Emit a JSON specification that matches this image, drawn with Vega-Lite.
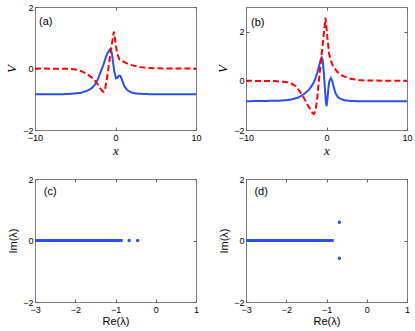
{
  "$schema": "https://vega.github.io/schema/vega-lite/v6.json",
  "background": "white",
  "padding": {"left": 5, "top": 2, "right": 8, "bottom": 0},
  "config": {
    "view": {"stroke": "#808080", "strokeWidth": 1},
    "axis": {
      "grid": false, "domain": false, "tickColor": "#606060", "tickSize": -3, "tickWidth": 1,
      "labelFont": "Liberation Sans", "labelFontSize": 9, "labelColor": "#000", "labelFlush": false,
      "titleFont": "Liberation Sans", "titleFontWeight": "normal", "titleFontSize": 11, "titleColor": "#000"
    },
    "axisX": {"labelPadding": 6},
    "axisY": {"labelPadding": 5},
    "text": {"font": "Liberation Sans", "fontSize": 11, "align": "left", "baseline": "middle"}
  },
  "datasets": {
    "a": [
      {"x": -10, "V": -0.84, "s": "u"}, {"x": -7, "V": -0.84, "s": "u"}, {"x": -6, "V": -0.83, "s": "u"}, {"x": -5, "V": -0.81, "s": "u"},
      {"x": -4.3, "V": -0.79, "s": "u"}, {"x": -3.5, "V": -0.72, "s": "u"}, {"x": -3, "V": -0.65, "s": "u"}, {"x": -2.6, "V": -0.54, "s": "u"},
      {"x": -2.2, "V": -0.36, "s": "u"}, {"x": -1.8, "V": -0.08, "s": "u"}, {"x": -1.5, "V": 0.12, "s": "u"}, {"x": -1.18, "V": 0.38, "s": "u"},
      {"x": -0.9, "V": 0.55, "s": "u"}, {"x": -0.64, "V": 0.63, "s": "u"}, {"x": -0.45, "V": 0.5, "s": "u"}, {"x": -0.3, "V": 0.2, "s": "u"},
      {"x": -0.15, "V": -0.1, "s": "u"}, {"x": 0.06, "V": -0.32, "s": "u"}, {"x": 0.25, "V": -0.3, "s": "u"}, {"x": 0.45, "V": -0.23, "s": "u"},
      {"x": 0.6, "V": -0.24, "s": "u"}, {"x": 0.8, "V": -0.36, "s": "u"}, {"x": 1.1, "V": -0.58, "s": "u"}, {"x": 1.5, "V": -0.71, "s": "u"},
      {"x": 1.9, "V": -0.77, "s": "u"}, {"x": 2.5, "V": -0.81, "s": "u"}, {"x": 3.5, "V": -0.83, "s": "u"}, {"x": 5, "V": -0.84, "s": "u"},
      {"x": 10, "V": -0.84, "s": "u"},
      {"x": -10, "V": 0, "s": "w"}, {"x": -6, "V": -0.01, "s": "w"}, {"x": -5, "V": -0.03, "s": "w"}, {"x": -4.3, "V": -0.08, "s": "w"},
      {"x": -3.67, "V": -0.16, "s": "w"}, {"x": -3.04, "V": -0.27, "s": "w"}, {"x": -2.63, "V": -0.37, "s": "w"}, {"x": -2.2, "V": -0.52, "s": "w"},
      {"x": -1.9, "V": -0.64, "s": "w"}, {"x": -1.65, "V": -0.73, "s": "w"}, {"x": -1.48, "V": -0.76, "s": "w"}, {"x": -1.28, "V": -0.66, "s": "w"},
      {"x": -1.05, "V": -0.3, "s": "w"}, {"x": -0.78, "V": 0.2, "s": "w"}, {"x": -0.5, "V": 0.72, "s": "w"}, {"x": -0.2, "V": 1.2, "s": "w"},
      {"x": 0, "V": 0.85, "s": "w"}, {"x": 0.2, "V": 0.5, "s": "w"}, {"x": 0.47, "V": 0.3, "s": "w"}, {"x": 0.8, "V": 0.25, "s": "w"},
      {"x": 1.1, "V": 0.21, "s": "w"}, {"x": 1.5, "V": 0.16, "s": "w"}, {"x": 2, "V": 0.11, "s": "w"}, {"x": 3, "V": 0.05, "s": "w"},
      {"x": 4, "V": 0.02, "s": "w"}, {"x": 5, "V": 0.005, "s": "w"}, {"x": 10, "V": 0, "s": "w"}
    ],
    "b": [
      {"x": -10, "V": -0.83, "s": "u"}, {"x": -6, "V": -0.81, "s": "u"}, {"x": -5, "V": -0.79, "s": "u"}, {"x": -4.4, "V": -0.76, "s": "u"},
      {"x": -3.5, "V": -0.68, "s": "u"}, {"x": -2.8, "V": -0.54, "s": "u"}, {"x": -2.3, "V": -0.4, "s": "u"}, {"x": -2, "V": -0.29, "s": "u"},
      {"x": -1.6, "V": -0.08, "s": "u"}, {"x": -1.36, "V": 0.11, "s": "u"}, {"x": -1.15, "V": 0.33, "s": "u"}, {"x": -0.95, "V": 0.57, "s": "u"},
      {"x": -0.75, "V": 0.82, "s": "u"}, {"x": -0.6, "V": 0.95, "s": "u"}, {"x": -0.48, "V": 0.85, "s": "u"}, {"x": -0.35, "V": 0.4, "s": "u"},
      {"x": -0.2, "V": -0.3, "s": "u"}, {"x": -0.08, "V": -0.85, "s": "u"}, {"x": 0, "V": -1.03, "s": "u"}, {"x": 0.1, "V": -0.8, "s": "u"},
      {"x": 0.22, "V": -0.35, "s": "u"}, {"x": 0.35, "V": -0.02, "s": "u"}, {"x": 0.53, "V": 0.11, "s": "u"}, {"x": 0.7, "V": 0, "s": "u"},
      {"x": 0.9, "V": -0.25, "s": "u"}, {"x": 1.1, "V": -0.49, "s": "u"}, {"x": 1.4, "V": -0.66, "s": "u"}, {"x": 1.73, "V": -0.73, "s": "u"},
      {"x": 2.2, "V": -0.79, "s": "u"}, {"x": 3, "V": -0.82, "s": "u"}, {"x": 4, "V": -0.83, "s": "u"}, {"x": 10, "V": -0.83, "s": "u"},
      {"x": -10, "V": 0, "s": "w"}, {"x": -6.5, "V": -0.01, "s": "w"}, {"x": -5, "V": -0.05, "s": "w"}, {"x": -4.4, "V": -0.11, "s": "w"},
      {"x": -3.8, "V": -0.22, "s": "w"}, {"x": -3, "V": -0.58, "s": "w"}, {"x": -2.4, "V": -0.95, "s": "w"}, {"x": -2, "V": -1.17, "s": "w"},
      {"x": -1.75, "V": -1.3, "s": "w"}, {"x": -1.56, "V": -1.35, "s": "w"}, {"x": -1.35, "V": -1.2, "s": "w"}, {"x": -1.15, "V": -0.7, "s": "w"},
      {"x": -0.95, "V": -0.02, "s": "w"}, {"x": -0.7, "V": 0.78, "s": "w"}, {"x": -0.4, "V": 1.7, "s": "w"}, {"x": -0.12, "V": 2.57, "s": "w"},
      {"x": 0.1, "V": 1.8, "s": "w"}, {"x": 0.3, "V": 1.15, "s": "w"}, {"x": 0.5, "V": 0.85, "s": "w"}, {"x": 0.8, "V": 0.6, "s": "w"},
      {"x": 1.3, "V": 0.38, "s": "w"}, {"x": 2, "V": 0.2, "s": "w"}, {"x": 3, "V": 0.08, "s": "w"}, {"x": 4, "V": 0.03, "s": "w"},
      {"x": 5, "V": 0.01, "s": "w"}, {"x": 10, "V": 0, "s": "w"}
    ],
    "cont": [
      {"re": -3, "im": 0}, {"re": -2.95, "im": 0}, {"re": -2.9, "im": 0}, {"re": -2.85, "im": 0}, {"re": -2.8, "im": 0}, {"re": -2.75, "im": 0},
      {"re": -2.7, "im": 0}, {"re": -2.65, "im": 0}, {"re": -2.6, "im": 0}, {"re": -2.55, "im": 0}, {"re": -2.5, "im": 0}, {"re": -2.45, "im": 0},
      {"re": -2.4, "im": 0}, {"re": -2.35, "im": 0}, {"re": -2.3, "im": 0}, {"re": -2.25, "im": 0}, {"re": -2.2, "im": 0}, {"re": -2.15, "im": 0},
      {"re": -2.1, "im": 0}, {"re": -2.05, "im": 0}, {"re": -2, "im": 0}, {"re": -1.95, "im": 0}, {"re": -1.9, "im": 0}, {"re": -1.85, "im": 0},
      {"re": -1.8, "im": 0}, {"re": -1.75, "im": 0}, {"re": -1.7, "im": 0}, {"re": -1.65, "im": 0}, {"re": -1.6, "im": 0}, {"re": -1.55, "im": 0},
      {"re": -1.5, "im": 0}, {"re": -1.45, "im": 0}, {"re": -1.4, "im": 0}, {"re": -1.35, "im": 0}, {"re": -1.3, "im": 0}, {"re": -1.25, "im": 0},
      {"re": -1.2, "im": 0}, {"re": -1.15, "im": 0}, {"re": -1.1, "im": 0}, {"re": -1.05, "im": 0}, {"re": -1, "im": 0}, {"re": -0.95, "im": 0},
      {"re": -0.9, "im": 0}, {"re": -0.85, "im": 0}, {"re": -0.82, "im": 0}
    ],
    "cx": [{"re": -0.66, "im": 0}, {"re": -0.45, "im": 0}],
    "dx": [{"re": -0.68, "im": 0.59}, {"re": -0.68, "im": -0.58}]
  },
  "columns": 2,
  "spacing": {"row": 49, "column": 50},
  "bounds": "flush",
  "concat": [
    {
      "width": 161, "height": 123,
      "layer": [
        {
          "data": {"name": "a"},
          "mark": {"type": "line", "strokeWidth": 2, "clip": true},
          "encoding": {
            "x": {"field": "x", "type": "quantitative", "scale": {"domain": [-10, 10], "nice": false}, "axis": {"values": [-10, 0, 10], "title": "x", "titleFont": "Liberation Serif", "titleFontStyle": "italic", "titleFontSize": 13, "titlePadding": 2}},
            "y": {"field": "V", "type": "quantitative", "scale": {"domain": [-2, 2], "nice": false}, "axis": {"values": [-2, 0, 2], "title": "V", "titleFont": "Liberation Serif", "titleFontStyle": "italic", "titleFontSize": 13, "titlePadding": 4}},
            "color": {"field": "s", "type": "nominal", "scale": {"domain": ["u", "w"], "range": ["#2b4ef2", "#ff0000"]}, "legend": null},
            "strokeDash": {"field": "s", "type": "nominal", "scale": {"domain": ["u", "w"], "range": [[1, 0], [6, 3]]}, "legend": null}
          }
        },
        {
          "data": {"values": [{"x": -9.5, "V": 1.51, "t": "(a)"}]},
          "mark": {"type": "text"},
          "encoding": {
            "x": {"field": "x", "type": "quantitative", "scale": {"domain": [-10, 10], "nice": false}, "axis": {"orient": "top", "values": [-10, 0, 10], "labels": false, "title": null}},
            "y": {"field": "V", "type": "quantitative", "scale": {"domain": [-2, 2], "nice": false}, "axis": {"orient": "right", "values": [-2, 0, 2], "labels": false, "title": null}},
            "text": {"field": "t"}
          }
        }
      ],
      "resolve": {"axis": {"x": "independent", "y": "independent"}}
    },
    {
      "width": 161, "height": 123,
      "layer": [
        {
          "data": {"name": "b"},
          "mark": {"type": "line", "strokeWidth": 2, "clip": true},
          "encoding": {
            "x": {"field": "x", "type": "quantitative", "scale": {"domain": [-10, 10], "nice": false}, "axis": {"values": [-10, 0, 10], "title": "x", "titleFont": "Liberation Serif", "titleFontStyle": "italic", "titleFontSize": 13, "titlePadding": 2}},
            "y": {"field": "V", "type": "quantitative", "scale": {"domain": [-2, 3], "nice": false}, "axis": {"values": [-2, 0, 2], "title": "V", "titleFont": "Liberation Serif", "titleFontStyle": "italic", "titleFontSize": 13, "titlePadding": 4}},
            "color": {"field": "s", "type": "nominal", "scale": {"domain": ["u", "w"], "range": ["#2b4ef2", "#ff0000"]}, "legend": null},
            "strokeDash": {"field": "s", "type": "nominal", "scale": {"domain": ["u", "w"], "range": [[1, 0], [6, 3]]}, "legend": null}
          }
        },
        {
          "data": {"values": [{"x": -9.38, "V": 2.36, "t": "(b)"}]},
          "mark": {"type": "text"},
          "encoding": {
            "x": {"field": "x", "type": "quantitative", "scale": {"domain": [-10, 10], "nice": false}, "axis": {"orient": "top", "values": [-10, 0, 10], "labels": false, "title": null}},
            "y": {"field": "V", "type": "quantitative", "scale": {"domain": [-2, 3], "nice": false}, "axis": {"orient": "right", "values": [-2, 0, 2], "labels": false, "title": null}},
            "text": {"field": "t"}
          }
        }
      ],
      "resolve": {"axis": {"x": "independent", "y": "independent"}}
    },
    {
      "width": 161, "height": 123,
      "layer": [
        {
          "data": {"name": "cont"},
          "mark": {"type": "line", "strokeWidth": 3, "color": "#2b4ef2"},
          "encoding": {
            "x": {"field": "re", "type": "quantitative", "scale": {"domain": [-3, 1], "nice": false}, "axis": {"values": [-3, -2, -1, 0, 1], "title": "Re(λ)", "titlePadding": 1}},
            "y": {"field": "im", "type": "quantitative", "scale": {"domain": [-2, 2], "nice": false}, "axis": {"values": [-2, 0, 2], "title": "Im(λ)", "titlePadding": 4}}
          }
        },
        {
          "data": {"name": "cx"},
          "mark": {"type": "circle", "size": 12, "opacity": 1, "color": "#2b4ef2"},
          "encoding": {
            "x": {"field": "re", "type": "quantitative", "axis": null},
            "y": {"field": "im", "type": "quantitative", "axis": null}
          }
        },
        {
          "data": {"values": [{"re": -2.78, "im": 1.58, "t": "(c)"}]},
          "mark": {"type": "text"},
          "encoding": {
            "x": {"field": "re", "type": "quantitative", "scale": {"domain": [-3, 1], "nice": false}, "axis": {"orient": "top", "values": [-3, -2, -1, 0, 1], "labels": false, "title": null}},
            "y": {"field": "im", "type": "quantitative", "scale": {"domain": [-2, 2], "nice": false}, "axis": {"orient": "right", "values": [-2, 0, 2], "labels": false, "title": null}},
            "text": {"field": "t"}
          }
        }
      ],
      "resolve": {"axis": {"x": "independent", "y": "independent"}}
    },
    {
      "width": 161, "height": 123,
      "layer": [
        {
          "data": {"name": "cont"},
          "mark": {"type": "line", "strokeWidth": 3, "color": "#2b4ef2"},
          "encoding": {
            "x": {"field": "re", "type": "quantitative", "scale": {"domain": [-3, 1], "nice": false}, "axis": {"values": [-3, -2, -1, 0, 1], "title": "Re(λ)", "titlePadding": 1}},
            "y": {"field": "im", "type": "quantitative", "scale": {"domain": [-2, 2], "nice": false}, "axis": {"values": [-2, 0, 2], "title": "Im(λ)", "titlePadding": 4}}
          }
        },
        {
          "data": {"name": "dx"},
          "mark": {"type": "circle", "size": 12, "opacity": 1, "color": "#2b4ef2"},
          "encoding": {
            "x": {"field": "re", "type": "quantitative", "axis": null},
            "y": {"field": "im", "type": "quantitative", "axis": null}
          }
        },
        {
          "data": {"values": [{"re": -2.79, "im": 1.58, "t": "(d)"}]},
          "mark": {"type": "text"},
          "encoding": {
            "x": {"field": "re", "type": "quantitative", "scale": {"domain": [-3, 1], "nice": false}, "axis": {"orient": "top", "values": [-3, -2, -1, 0, 1], "labels": false, "title": null}},
            "y": {"field": "im", "type": "quantitative", "scale": {"domain": [-2, 2], "nice": false}, "axis": {"orient": "right", "values": [-2, 0, 2], "labels": false, "title": null}},
            "text": {"field": "t"}
          }
        }
      ],
      "resolve": {"axis": {"x": "independent", "y": "independent"}}
    }
  ]
}
